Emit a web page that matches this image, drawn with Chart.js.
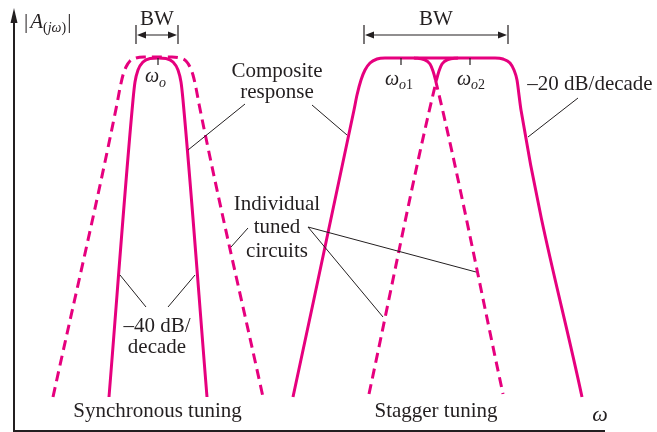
<!DOCTYPE html>
<html>
<head>
<meta charset="utf-8">
<script src="https://cdn.jsdelivr.net/npm/chart.js@4.4.0/dist/chart.umd.min.js"></script>
<style>
  body { margin: 0; background: #fff; }
  #wrap { width: 657px; height: 432px; }
</style>
</head>
<body>
<div id="wrap"><canvas id="tuning" width="657" height="432"></canvas></div>
<script>
// curve points (x = omega, y = |A|, arbitrary units)
const syncTunedX = [39, 103, 106, 109, 112, 116, 122, 130, 144, 158, 166, 172, 176, 179, 182, 185, 249];
const syncTunedY = [34, 327, 343, 356, 364, 370, 373, 374, 374, 374, 373, 370, 364, 356, 343, 327, 34];

const syncCompX = [95, 119, 121, 124, 129, 136, 144, 152, 159, 164, 167, 169, 193];
const syncCompY = [34, 331, 349, 361, 369, 372.5, 373, 372.5, 369, 361, 349, 331, 34];

const stagCompX = [279, 340, 343, 347, 351, 356, 363, 371, 481, 489, 496, 500, 503, 505, 507, 568];
const stagCompY = [34, 321, 336, 351, 361, 368, 372, 373, 373, 372, 368, 361, 351, 336, 321, 34];

// the two stagger-tuned circuits below the flat top (solid arm + dashed skirt)
const stagLeftX = [400, 410, 416, 419, 421.5, 489];
const stagLeftY = [373, 371.5, 367, 360, 351, 37];
const stagRightX = [355, 422.5, 425, 428, 434, 444];
const stagRightY = [37, 351, 360, 367, 371.5, 373];

// centre frequencies (tick marks on the top)
const centreTicks = [144, 387, 456];

const MAGENTA = '#e6007e';
const INK = '#231f20';
const DASH = [10, 6];

const pts = (xs, ys) => xs.map((v, i) => ({x: v, y: ys[i]}));

function curve(xs, ys, dashFn) {
  return {
    data: pts(xs, ys),
    borderColor: MAGENTA,
    borderWidth: 3,
    pointRadius: 0,
    fill: false,
    cubicInterpolationMode: 'monotone',
    borderCapStyle: 'butt',
    segment: { borderDash: dashFn }
  };
}

function arrowHead(ctx, x, y, dir) {
  ctx.beginPath();
  ctx.moveTo(x, y);
  ctx.lineTo(x - dir * 9, y - 3.5);
  ctx.lineTo(x - dir * 9, y + 3.5);
  ctx.closePath();
  ctx.fill();
}

function drawRuns(ctx, runs, x, y) {
  let cx = x;
  runs.forEach(r => {
    ctx.font = r.font;
    ctx.fillText(r.t, cx, y + (r.dy || 0));
    cx += ctx.measureText(r.t).width + (r.gap || 0);
  });
}

const SERIF = '"Liberation Serif", "DejaVu Serif", serif';

const sketchPlugin = {
  id: 'sketch',
  afterDraw(chart) {
    const {ctx, chartArea, scales: {x, y}} = chart;
    const px = v => x.getPixelForValue(v);
    const py = v => y.getPixelForValue(v);
    ctx.save();
    ctx.strokeStyle = INK;
    ctx.fillStyle = INK;

    // axes
    ctx.lineWidth = 2;
    ctx.beginPath();
    ctx.moveTo(chartArea.left, chartArea.bottom);
    ctx.lineTo(chartArea.left, chartArea.top + 12);
    ctx.moveTo(chartArea.left - 1, chartArea.bottom);
    ctx.lineTo(chartArea.right, chartArea.bottom);
    ctx.stroke();
    ctx.beginPath();
    ctx.moveTo(chartArea.left, chartArea.top);
    ctx.lineTo(chartArea.left - 3.5, chartArea.top + 15);
    ctx.lineTo(chartArea.left + 3.5, chartArea.top + 15);
    ctx.closePath();
    ctx.fill();

    // bandwidth dimension marks
    ctx.lineWidth = 1.2;
    [[122, 164], [350, 494]].forEach(([a, b]) => {
      ctx.beginPath();
      ctx.moveTo(px(a), py(406)); ctx.lineTo(px(a), py(387));
      ctx.moveTo(px(b), py(406)); ctx.lineTo(px(b), py(387));
      ctx.moveTo(px(a) + 4, py(396)); ctx.lineTo(px(b) - 4, py(396));
      ctx.stroke();
      arrowHead(ctx, px(a) + 1, py(396), -1);
      arrowHead(ctx, px(b) - 1, py(396), 1);
    });

    // centre frequency ticks
    ctx.lineWidth = 1.2;
    centreTicks.forEach(t => {
      ctx.beginPath();
      ctx.moveTo(px(t), py(373));
      ctx.lineTo(px(t), py(366));
      ctx.stroke();
    });

    // leader lines
    const leaders = [
      [231, 327, 174, 281], [298, 326, 333, 296], [564, 333, 514, 294],
      [234, 203, 217, 184], [294, 204, 462, 159], [294, 204, 369, 114],
      [132, 124, 106, 156], [154, 124, 181, 156]
    ];
    ctx.lineWidth = 1;
    leaders.forEach(([x1, y1, x2, y2]) => {
      ctx.beginPath();
      ctx.moveTo(px(x1), py(y1));
      ctx.lineTo(px(x2), py(y2));
      ctx.stroke();
    });

    // plain labels
    const labels = [
      ['BW', 143, 406], ['BW', 422, 406],
      ['Composite', 263, 354], ['response', 263, 333],
      ['\u201320 dB/decade', 576, 341],
      ['Individual', 263, 221], ['tuned', 263, 198], ['circuits', 263, 174],
      ['\u201340 dB/', 143, 99], ['decade', 143, 78],
      ['Synchronous tuning', 143.5, 14], ['Stagger tuning', 422, 14]
    ];
    ctx.font = '21px ' + SERIF;
    ctx.textAlign = 'center';
    ctx.textBaseline = 'alphabetic';
    labels.forEach(([t, lx, ly]) => ctx.fillText(t, px(lx), py(ly)));

    ctx.font = 'italic 22px ' + SERIF;
    ctx.fillText('\u03c9', px(586), py(10));

    // subscripted labels
    ctx.textAlign = 'left';
    const big = 'italic 20px ' + SERIF;
    const subI = 'italic 14px ' + SERIF;
    const sub = '14px ' + SERIF;
    drawRuns(ctx, [{t: '\u03c9', font: big}, {t: 'o', font: subI, dy: 5}], px(131), py(349));
    drawRuns(ctx, [{t: '\u03c9', font: big}, {t: 'o', font: subI, dy: 4}, {t: '1', font: sub, dy: 4}], px(371), py(346));
    drawRuns(ctx, [{t: '\u03c9', font: big}, {t: 'o', font: subI, dy: 4}, {t: '2', font: sub, dy: 4}], px(443), py(346));
    drawRuns(ctx, [
      {t: '|', font: '21px ' + SERIF, gap: 2},
      {t: 'A', font: 'italic 21px ' + SERIF},
      {t: '(', font: '14px ' + SERIF, dy: 4},
      {t: 'j', font: 'italic 14px ' + SERIF, dy: 4},
      {t: '\u03c9', font: 'italic 14px ' + SERIF, dy: 4},
      {t: ')', font: '14px ' + SERIF, dy: 4, gap: 1},
      {t: '|', font: '21px ' + SERIF}
    ], px(10), py(403));

    ctx.restore();
  }
};

new Chart(document.getElementById('tuning'), {
  type: 'line',
  data: {
    datasets: [
      curve(syncTunedX, syncTunedY, () => DASH),
      curve(syncCompX, syncCompY, () => undefined),
      curve(stagCompX, stagCompY, () => undefined),
      curve(stagLeftX, stagLeftY, c => c.p0DataIndex >= stagLeftX.length - 2 ? DASH : undefined),
      curve(stagRightX, stagRightY, c => c.p0DataIndex === 0 ? DASH : undefined)
    ]
  },
  options: {
    responsive: false,
    animation: false,
    layout: { padding: { left: 14, right: 52, top: 8, bottom: 1 } },
    scales: {
      x: { type: 'linear', min: 0, max: 591, display: false },
      y: { type: 'linear', min: 0, max: 423, display: false }
    },
    plugins: { legend: { display: false }, tooltip: { enabled: false } }
  },
  plugins: [sketchPlugin]
});
</script>
</body>
</html>
